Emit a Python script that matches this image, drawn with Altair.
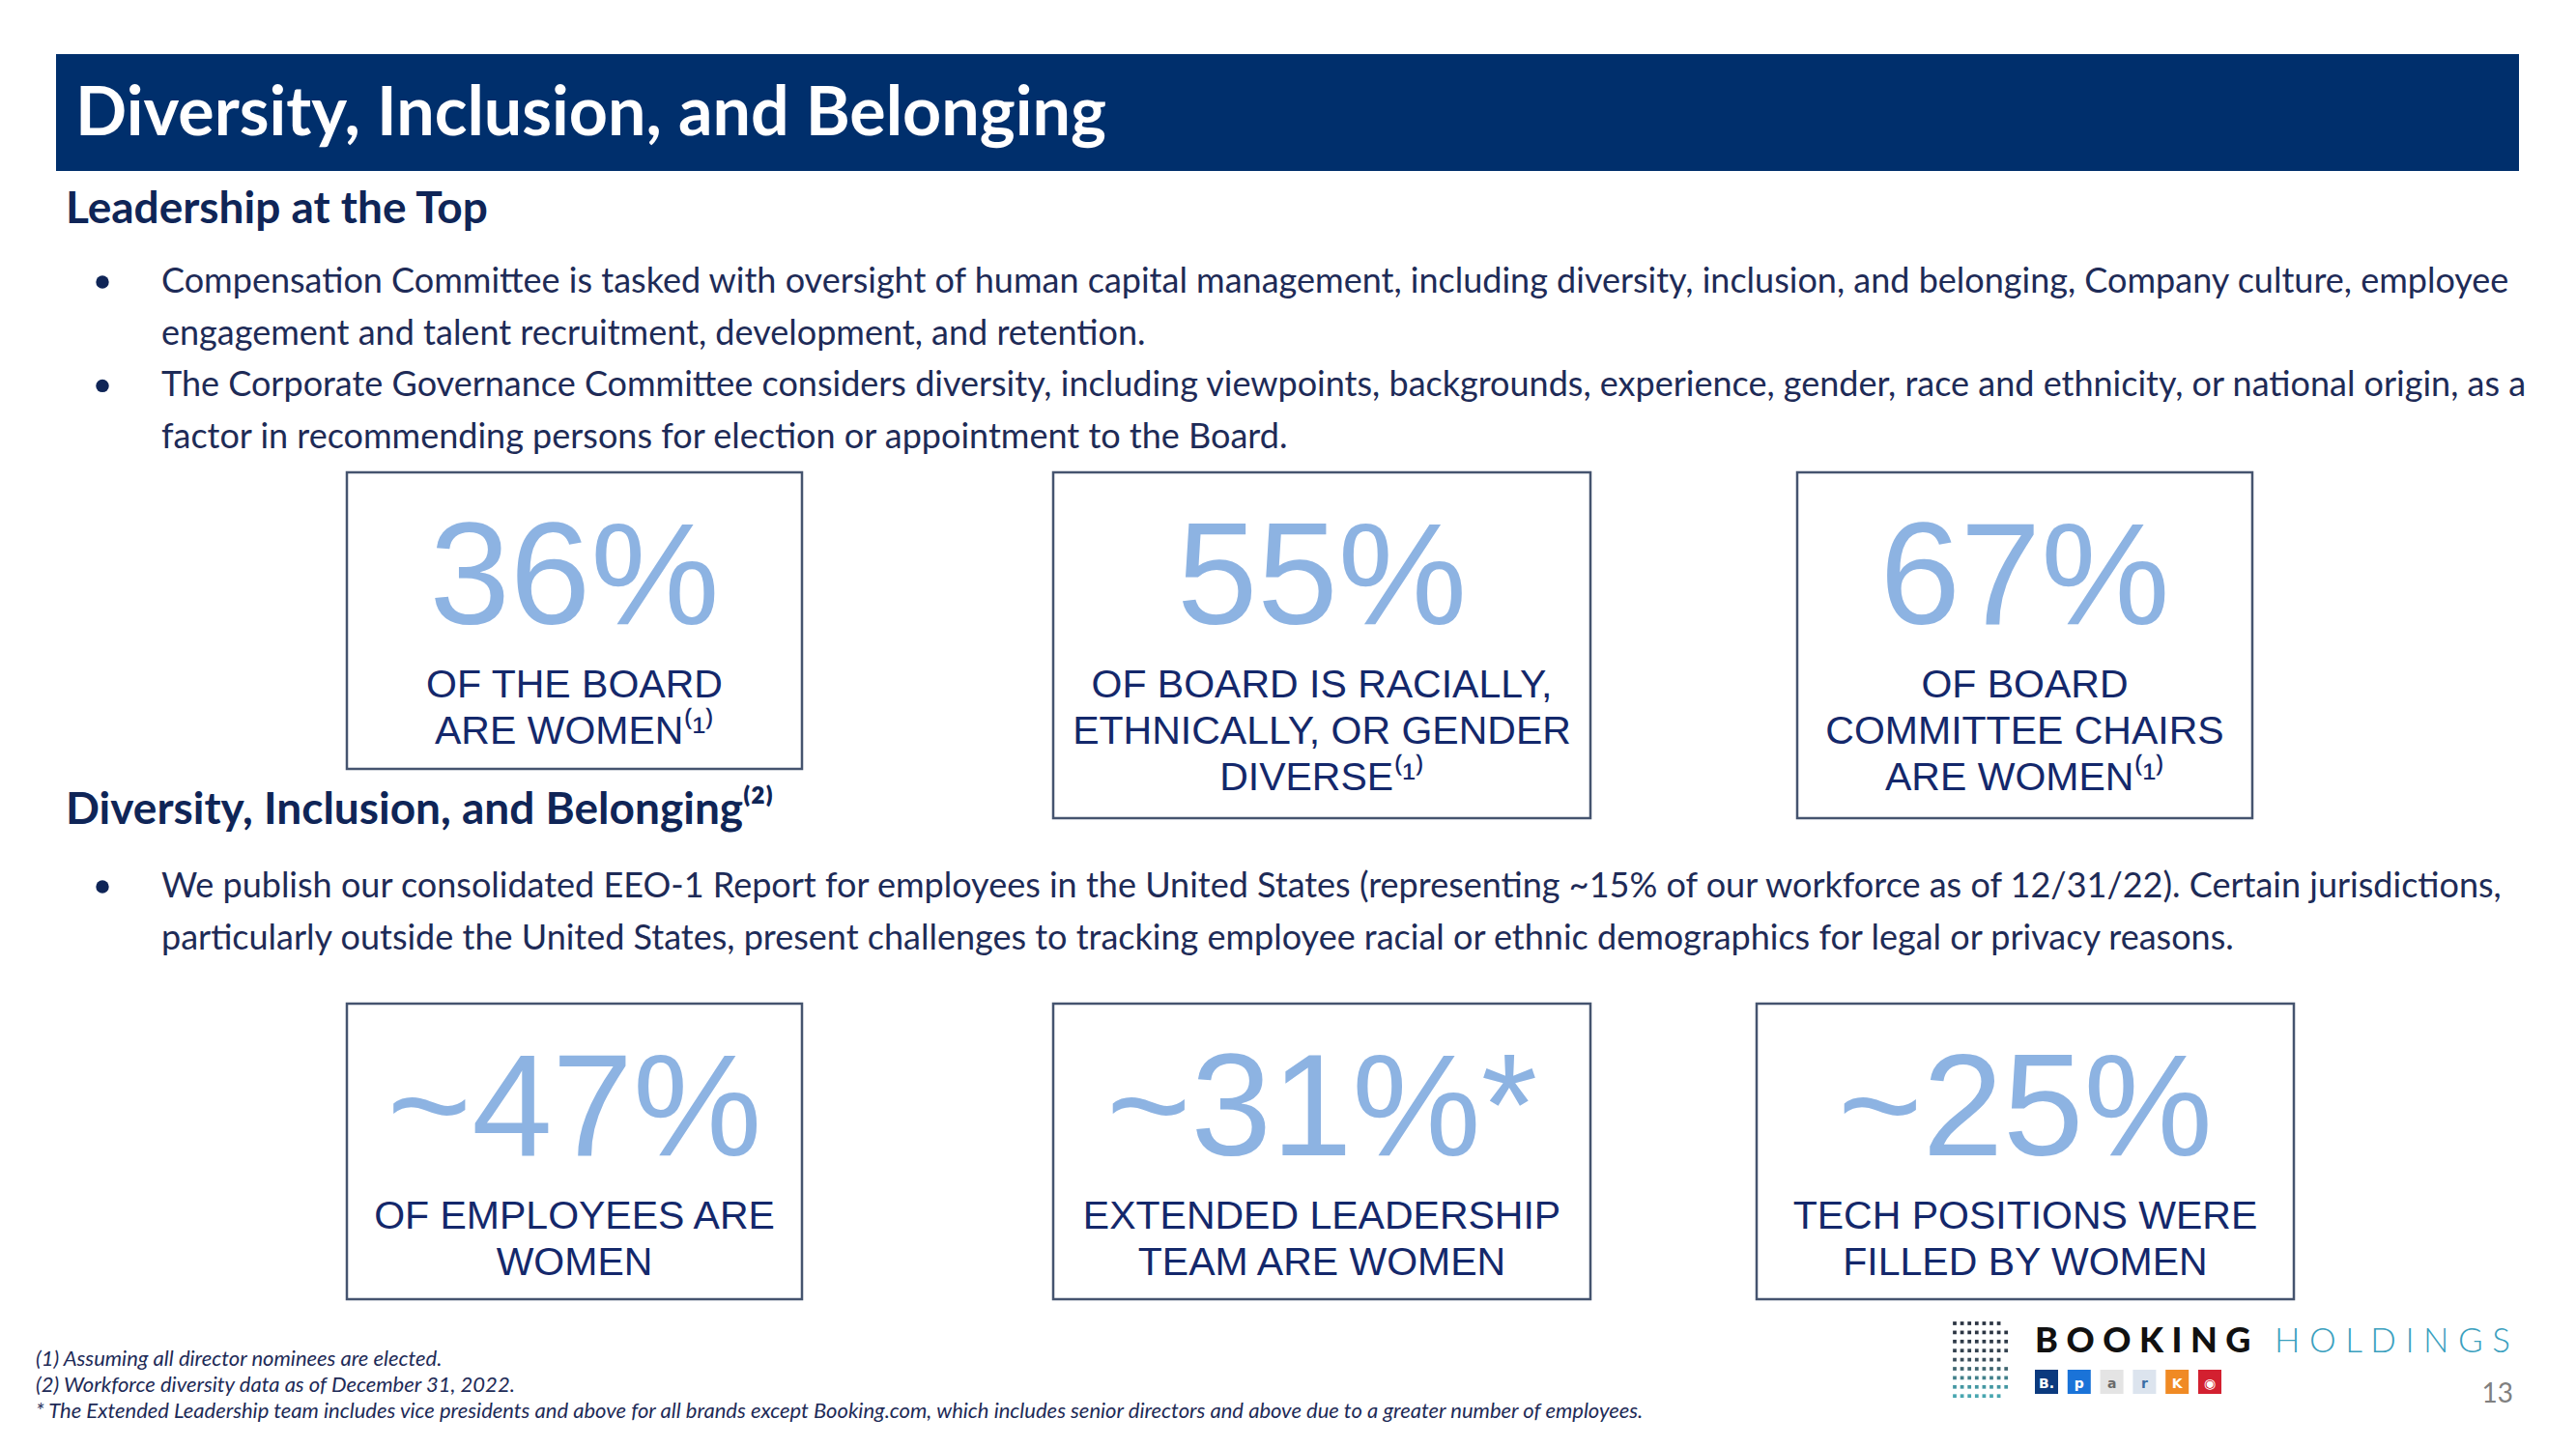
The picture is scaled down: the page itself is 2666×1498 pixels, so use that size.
import altair as alt
import pandas as pd

# ---------------- content ----------------
TITLE = "Diversity, Inclusion, and Belonging"
SECTION_1 = "Leadership at the Top"
SECTION_2 = "Diversity, Inclusion, and Belonging\u207d\u00b2\u207e"
BULLETS_1 = [
    ["Compensation Committee is tasked with oversight of human capital management, including diversity, inclusion, and belonging, Company culture, employee",
     "engagement and talent recruitment, development, and retention."],
    ["The Corporate Governance Committee considers diversity, including viewpoints, backgrounds, experience, gender, race and ethnicity, or national origin, as a",
     "factor in recommending persons for election or appointment to the Board."],
]
BULLETS_2 = [
    ["We publish our consolidated EEO-1 Report for employees in the United States (representing ~15% of our workforce as of 12/31/22). Certain jurisdictions,",
     "particularly outside the United States, present challenges to tracking employee racial or ethnic demographics for legal or privacy reasons."],
]
STAT_VALUES = [36, 55, 67, 47, 31, 25]
STAT_PREFIX = ["", "", "", "~", "~", "~"]
STAT_SUFFIX = ["%", "%", "%", "%", "%*", "%"]
STAT_LABELS = [
    ["OF THE BOARD", "ARE WOMEN\u207d\u00b9\u207e"],
    ["OF BOARD IS RACIALLY,", "ETHNICALLY, OR GENDER", "DIVERSE\u207d\u00b9\u207e"],
    ["OF BOARD", "COMMITTEE CHAIRS", "ARE WOMEN\u207d\u00b9\u207e"],
    ["OF EMPLOYEES ARE", "WOMEN"],
    ["EXTENDED LEADERSHIP", "TEAM ARE WOMEN"],
    ["TECH POSITIONS WERE", "FILLED BY WOMEN"],
]
FOOTNOTES = [
    "(1) Assuming all director nominees are elected.",
    "(2) Workforce diversity data as of December 31, 2022.",
    "* The Extended Leadership team includes vice presidents and above for all brands except Booking.com, which includes senior directors and above due to a greater number of employees.",
]
BRAND_WORDS = ["B O O K I N G", "H O L D I N G S"]
BRAND_ICONS = ["B.", "p", "a", "r", "K", "\u25c9"]
BRAND_ICON_COLORS = ["#0B3A7E", "#1A73D8", "#E4E4E4", "#DCE4EE", "#F08A24", "#D32030"]
BRAND_ICON_TEXT = ["white", "white", "#6A6A6A", "#3A6EA5", "white", "white"]
LOGO_DOT_ROWS = [7, 8, 8, 8, 7, 8, 8, 8, 7]
LOGO_DOT_COLORS = ["#2B3442", "#2B3442", "#2E3A48", "#33424F", "#3B4F5C", "#3F6670", "#41808A", "#4497A2", "#48A6B0"]
PAGE = "13"

# ---------------- layout (pixels) ----------------
W, H = 2640, 1470
XS = alt.Scale(domain=[8, 8 + W], nice=False, zero=False)
YS = alt.Scale(domain=[8, 8 + H], nice=False, zero=False, reverse=True)

BANNER = (58, 2607, 56, 177)
BOXES = [(359, 830, 489, 796), (1090, 1646, 489, 847), (1860, 2331, 489, 847),
         (359, 830, 1039, 1345), (1090, 1646, 1039, 1345), (1818, 2374, 1039, 1345)]
NUM_BASE = [646, 646, 646, 1196, 1196, 1196]
LAB_BASE = [722, 722, 722, 1272, 1272, 1272]
LAB_STEP = 48


def enc(chart):
    return chart.encode(
        x=alt.X("x:Q", scale=XS, axis=None),
        y=alt.Y("y:Q", scale=YS, axis=None),
    )


def text_layer(rows, **kw):
    df = pd.DataFrame(rows)
    return alt.Chart(df).mark_text(baseline="alphabetic", **kw).encode(
        x=alt.X("x:Q", scale=XS, axis=None),
        y=alt.Y("y:Q", scale=YS, axis=None),
        text="t:N",
    )


def rect_layer(rows, **kw):
    df = pd.DataFrame(rows)
    return alt.Chart(df).mark_rect(**kw).encode(
        x=alt.X("x:Q", scale=XS, axis=None), x2="x2:Q",
        y=alt.Y("y:Q", scale=YS, axis=None), y2="y2:Q",
    )


layers = []

# banner + title
layers.append(rect_layer([dict(x=BANNER[0], x2=BANNER[1], y=BANNER[2], y2=BANNER[3])], color="#002F6C"))
layers.append(text_layer([dict(x=78, y=140, t=TITLE)], align="left", font="Lato", fontSize=70,
                         fontWeight="bold", color="white"))

# section headings
layers.append(text_layer([dict(x=68, y=231, t=SECTION_1), dict(x=68, y=853, t=SECTION_2)],
                         align="left", font="Lato", fontSize=46, fontWeight="bold", color="#0F2557"))

# bullets
BODY_COLOR = "#1E2B57"
body_rows, dot_rows = [], []
y = 303
for para in BULLETS_1:
    dot_rows.append(dict(x=106, y=y - 11))
    for line in para:
        body_rows.append(dict(x=167, y=y, t=line))
        y += 53.7
y = 929
for para in BULLETS_2:
    dot_rows.append(dict(x=106, y=y - 11))
    for line in para:
        body_rows.append(dict(x=167, y=y, t=line))
        y += 54
layers.append(text_layer(body_rows, align="left", font="Lato", fontSize=36, color=BODY_COLOR))
layers.append(enc(alt.Chart(pd.DataFrame(dot_rows)).mark_circle(size=180, opacity=1, color="#0F2557")))

# stat boxes
box_rows = [dict(x=b[0], x2=b[1], y=b[2], y2=b[3]) for b in BOXES]
layers.append(rect_layer(box_rows, fill="white", stroke="#45546F", strokeWidth=2.5))

num_rows, lab_rows = [], []
for i, b in enumerate(BOXES):
    cx = (b[0] + b[1]) / 2
    num_rows.append(dict(x=cx, y=NUM_BASE[i], t=f"{STAT_PREFIX[i]}{STAT_VALUES[i]}{STAT_SUFFIX[i]}"))
    for j, line in enumerate(STAT_LABELS[i]):
        lab_rows.append(dict(x=cx, y=LAB_BASE[i] + j * LAB_STEP, t=line))
layers.append(text_layer(num_rows, align="center", font="Liberation Sans", fontSize=150, color="#8DB3E2"))
layers.append(text_layer(lab_rows, align="center", font="Liberation Sans", fontSize=41, color="#14286B"))

# footnotes
foot_rows = [dict(x=37, y=1414 + k * 27, t=t) for k, t in enumerate(FOOTNOTES)]
layers.append(text_layer(foot_rows, align="left", font="Lato", fontSize=22, fontStyle="italic", color=BODY_COLOR))

# logo: dot grid
dots = []
for r, n in enumerate(LOGO_DOT_ROWS):
    for c in range(n):
        dots.append(dict(x=2023 + c * 7.6, y=1370 + r * 9.4, c=LOGO_DOT_COLORS[r]))
layers.append(enc(alt.Chart(pd.DataFrame(dots)).mark_square(size=14, opacity=1)).encode(
    color=alt.Color("c:N", scale=None)))

# logo words
layers.append(text_layer([dict(x=2106, y=1400, t=BRAND_WORDS[0])], align="left", font="Lato",
                         fontSize=36, fontWeight=900, color="#111111"))
layers.append(text_layer([dict(x=2354, y=1400, t=BRAND_WORDS[1])], align="left", font="Lato",
                         fontSize=35, fontWeight=300, color="#3AA0BE"))

# brand icons
icon_rects, icon_txt = [], []
for k, lab in enumerate(BRAND_ICONS):
    x0 = 2106 + k * 33.8
    icon_rects.append(dict(x=x0, x2=x0 + 24, y=1418, y2=1443, c=BRAND_ICON_COLORS[k]))
    icon_txt.append(dict(x=x0 + 12, y=1437, t=lab, c=BRAND_ICON_TEXT[k]))
layers.append(rect_layer(icon_rects).encode(color=alt.Color("c:N", scale=None)))
layers.append(text_layer(icon_txt, align="center", font="DejaVu Sans", fontSize=14, fontWeight="bold").encode(
    color=alt.Color("c:N", scale=None)))

# page number
layers.append(text_layer([dict(x=2601, y=1452, t=PAGE)], align="right", font="Lato", fontSize=28, color="#808080"))

chart = alt.layer(*layers).properties(
    width=W, height=H, padding=0,
    autosize=alt.AutoSizeParams(type="none"),
    background="white",
).configure_view(stroke=None)

chart.save("out.html", embed_options={"renderer": "svg", "actions": False})
